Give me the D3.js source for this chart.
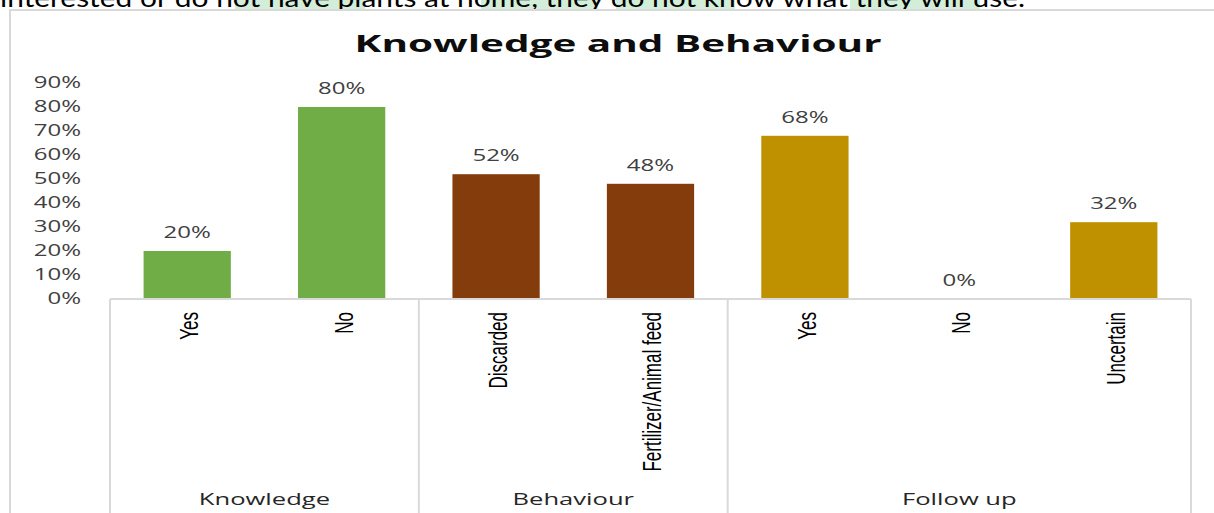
<!DOCTYPE html>
<html>
<head>
<meta charset="utf-8">
<script src="https://cdn.jsdelivr.net/npm/d3@7"></script>
<style>
  body { margin: 0; background: #fff; overflow: hidden; }
  svg { display: block; }
</style>
</head>
<body>
<script>
// chart data
var groups = ["Knowledge", "Behaviour", "Follow up"];
var categories = ["Yes", "No", "Discarded", "Fertilizer/Animal feed", "Yes", "No", "Uncertain"];
var groupOf = [0, 0, 1, 1, 2, 2, 2];
var values = [0.20, 0.80, 0.52, 0.48, 0.68, 0.00, 0.32];
var groupColors = ["#70ad47", "#843c0c", "#bf9000"];
var yTicks = [0, 0.1, 0.2, 0.3, 0.4, 0.5, 0.6, 0.7, 0.8, 0.9];
var title = "Knowledge and Behaviour";
var topLine = "interested or do not have plants at home, they do not know what they will use.";

var width = 1214, height = 513;
var stretch = 1.55;   // the picture is widened, text included
var gridColor = "#d9d9d9";

var svg = d3.select("body").append("svg")
    .attr("width", width)
    .attr("height", height);

// cut-off line of document text above the chart
var marks = [[235, 365], [481, 598], [616, 735], [850, 980]];
svg.selectAll("rect.hl")
    .data(marks)
    .enter()
    .append("rect")
      .attr("class", "hl")
      .attr("x", function(d) { return d[0]; })
      .attr("y", 0)
      .attr("width", function(d) { return d[1] - d[0]; })
      .attr("height", 9)
      .attr("fill", "#d3eed8");

svg.append("text")
    .attr("x", 0)
    .attr("y", 7)
    .attr("textLength", 1025)
    .attr("lengthAdjust", "spacingAndGlyphs")
    .style("font-family", "Lato, 'Open Sans', sans-serif")
    .style("font-size", "25px")
    .attr("fill", "#000")
    .text(topLine);

// chart frame
svg.append("rect")
    .attr("x", 10)
    .attr("y", 10)
    .attr("width", 1300)
    .attr("height", 600)
    .attr("fill", "#fff")
    .attr("stroke", gridColor)
    .attr("stroke-width", 2);

svg.append("text")
    .attr("transform", "translate(618,52) scale(" + stretch + ",1)")
    .attr("text-anchor", "middle")
    .attr("textLength", 527 / stretch)
    .attr("lengthAdjust", "spacingAndGlyphs")
    .style("font-family", "'Open Sans', sans-serif")
    .style("font-weight", 700)
    .style("font-size", "24px")
    .attr("fill", "#0d0d0d")
    .text(title);

var x = d3.scaleBand()
    .domain(d3.range(categories.length))
    .range([110, 1191]);

var y = d3.scaleLinear()
    .domain([0, 0.9])
    .range([299, 83]);

var barW = x.bandwidth() * 0.565;

// y axis labels only
var yAxis = svg.append("g")
    .attr("transform", "translate(81,0)")
    .call(d3.axisLeft(y).tickValues(yTicks).tickSize(0).tickPadding(0).tickFormat(d3.format(".0%")));
yAxis.select(".domain").remove();
yAxis.selectAll("text")
    .attr("transform", "scale(" + stretch + ",1)")
    .style("font-family", "'Open Sans', sans-serif")
    .style("font-size", "15.5px")
    .attr("fill", "#404040");

// bars
svg.selectAll("rect.bar")
    .data(values)
    .enter()
    .append("rect")
      .attr("class", "bar")
      .attr("x", function(d, i) { return x(i) + (x.bandwidth() - barW) / 2; })
      .attr("y", function(d) { return y(d); })
      .attr("width", barW)
      .attr("height", function(d) { return y(0) - y(d); })
      .attr("fill", function(d, i) { return groupColors[groupOf[i]]; });

// value labels
svg.selectAll("text.val")
    .data(values)
    .enter()
    .append("text")
      .attr("class", "val")
      .attr("transform", function(d, i) {
        return "translate(" + (x(i) + x.bandwidth() / 2) + "," + (y(d) - 13) + ") scale(" + stretch + ",1)";
      })
      .attr("text-anchor", "middle")
      .style("font-family", "'Open Sans', sans-serif")
      .style("font-size", "15.5px")
      .attr("fill", "#404040")
      .text(function(d) { return d3.format(".0%")(d); });

// category axis line and group dividers
svg.append("line")
    .attr("x1", x.range()[0]).attr("x2", x.range()[1])
    .attr("y1", y(0)).attr("y2", y(0))
    .attr("stroke", gridColor)
    .attr("stroke-width", 2);

var starts = groups.map(function(g, k) { return groupOf.indexOf(k); });
var bounds = starts.map(function(s) { return x(s); }).concat([x.range()[1]]);

svg.selectAll("line.div")
    .data(bounds)
    .enter()
    .append("line")
      .attr("class", "div")
      .attr("x1", function(d) { return d; })
      .attr("x2", function(d) { return d; })
      .attr("y1", y(0))
      .attr("y2", height)
      .attr("stroke", gridColor)
      .attr("stroke-width", 2);

// rotated category names
svg.selectAll("text.cat")
    .data(categories)
    .enter()
    .append("text")
      .attr("class", "cat")
      .attr("transform", function(d, i) {
        return "translate(" + (x(i) + x.bandwidth() / 2 + 2) + ",312) scale(" + stretch + ",1) rotate(-90)";
      })
      .attr("text-anchor", "end")
      .attr("dominant-baseline", "central")
      .style("font-family", "'Liberation Sans', Arial, sans-serif")
      .style("font-size", "17px")
      .attr("fill", "#000")
      .text(function(d) { return d; });

// group names
svg.selectAll("text.grp")
    .data(groups)
    .enter()
    .append("text")
      .attr("class", "grp")
      .attr("transform", function(d, k) {
        return "translate(" + ((bounds[k] + bounds[k + 1]) / 2) + ",505) scale(" + stretch + ",1)";
      })
      .attr("text-anchor", "middle")
      .style("font-family", "'Open Sans', sans-serif")
      .style("font-size", "16.5px")
      .attr("fill", "#262626")
      .text(function(d) { return d; });
</script>
</body>
</html>
